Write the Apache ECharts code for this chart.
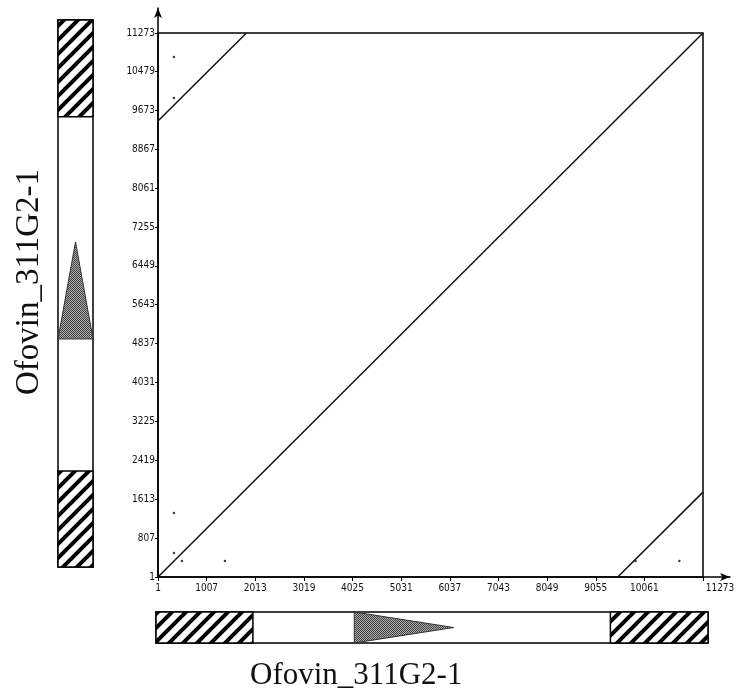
<!DOCTYPE html>
<html>
<head>
<meta charset="utf-8">
<script src="https://cdn.jsdelivr.net/npm/echarts@6/dist/echarts.min.js"></script>
<style>
  html, body { margin: 0; padding: 0; background: #fff; }
</style>
</head>
<body>
<div id="main" style="width: 741px; height: 700px"></div>
<script>
// sequence and axis ticks
const seqName = 'Ofovin_311G2-1'
const seqLength = 11273
const xTicks = [1, 1007, 2013, 3019, 4025, 5031, 6037, 7043, 8049, 9055, 10061, 11273]
const yTicks = [1, 807, 1613, 2419, 3225, 4031, 4837, 5643, 6449, 7255, 8061, 8867, 9673, 10479, 11273]

// dot plot matches
const mainDiagonal = [[1, 1], [11273, 11273]]
const upperRepeat = [[1, 9450], [1830, 11273]]
const lowerRepeat = [[9510, 1], [11273, 1760]]
const strayDots = [[331, 10775], [331, 9925], [331, 1326], [331, 497], [496, 332], [1386, 332], [9875, 332], [10785, 332]]

// gene map features
const ltrRegions = [[1, 1980], [9280, 11273]]
const geneX = [4050, 6080]
const geneY = [4700, 6700]

function hatchPattern() {
  const c = document.createElement('canvas')
  c.width = 14
  c.height = 14
  const ctx = c.getContext('2d')
  ctx.fillStyle = '#fff'
  ctx.fillRect(0, 0, 14, 14)
  ctx.strokeStyle = '#000'
  ctx.lineWidth = 4
  ctx.beginPath()
  ctx.moveTo(-7, 7); ctx.lineTo(7, -7)
  ctx.moveTo(0, 14); ctx.lineTo(14, 0)
  ctx.moveTo(7, 21); ctx.lineTo(21, 7)
  ctx.stroke()
  return { image: c, repeat: 'repeat' }
}

function stipplePattern() {
  const c = document.createElement('canvas')
  c.width = 2
  c.height = 2
  const ctx = c.getContext('2d')
  ctx.fillStyle = '#aaa'
  ctx.fillRect(0, 0, 2, 2)
  ctx.fillStyle = '#444'
  ctx.fillRect(0, 0, 1, 1)
  ctx.fillRect(1, 1, 1, 1)
  return { image: c, repeat: 'repeat' }
}

const hatch = hatchPattern()
const stipple = stipplePattern()

// x gene bar: value along x, 0..1 across
function renderXBar(params, api) {
  const kind = api.value(2)
  const a = api.coord([api.value(0), 0])
  const b = api.coord([api.value(1), 1])
  if (kind === 2) {
    return {
      type: 'polygon',
      shape: { points: [[a[0], a[1]], [a[0], b[1]], [b[0], (a[1] + b[1]) / 2]] },
      style: { fill: stipple, stroke: '#333', lineWidth: 1 }
    }
  }
  return {
    type: 'rect',
    shape: { x: a[0], y: b[1], width: b[0] - a[0], height: a[1] - b[1] },
    style: { fill: kind === 1 ? hatch : '#fff', stroke: '#000', lineWidth: 1.5 }
  }
}

// y gene bar: value along y, 0..1 across
function renderYBar(params, api) {
  const kind = api.value(2)
  const a = api.coord([0, api.value(0)])
  const b = api.coord([1, api.value(1)])
  if (kind === 2) {
    return {
      type: 'polygon',
      shape: { points: [[a[0], a[1]], [b[0], a[1]], [(a[0] + b[0]) / 2, b[1]]] },
      style: { fill: stipple, stroke: '#333', lineWidth: 1 }
    }
  }
  return {
    type: 'rect',
    shape: { x: a[0], y: b[1], width: b[0] - a[0], height: a[1] - b[1] },
    style: { fill: kind === 1 ? hatch : '#fff', stroke: '#000', lineWidth: 1.5 }
  }
}

const xBarData = [[1, seqLength, 0]]
  .concat(ltrRegions.map((r) => [r[0], r[1], 1]))
  .concat([[geneX[0], geneX[1], 2]])
const yBarData = [[1, seqLength, 0]]
  .concat(ltrRegions.map((r) => [r[0], r[1], 1]))
  .concat([[geneY[0], geneY[1], 2]])

const tickFont = {
  fontSize: 10,
  color: '#111',
  fontFamily: 'DejaVu Sans Condensed, Liberation Sans, sans-serif'
}

const hiddenAxis = {
  show: false,
  splitLine: { show: false }
}

const option = {
  backgroundColor: '#fff',
  animation: false,
  grid: [
    { left: 158, top: 33, width: 545, height: 544, show: true, borderColor: '#000', borderWidth: 1.5 },
    { left: 158, top: 8, width: 572, height: 569 },
    { left: 156, top: 612, width: 552, height: 31 },
    { left: 58, top: 20, width: 35, height: 547 }
  ],
  xAxis: [
    {
      gridIndex: 0,
      type: 'value',
      min: 1,
      max: seqLength,
      splitLine: { show: false },
      axisLine: { show: false },
      axisTick: { show: true, length: 4, customValues: xTicks, lineStyle: { color: '#000' } },
      axisLabel: {
        ...tickFont,
        margin: 6,
        customValues: xTicks,
        formatter: (v) => (v === seqLength ? '{last|' + v + '}' : String(v)),
        rich: { last: { ...tickFont, padding: [0, 0, 0, 34] } }
      }
    },
    {
      gridIndex: 1,
      type: 'value',
      min: 0,
      max: 1,
      splitLine: { show: false },
      axisTick: { show: false },
      axisLabel: { show: false },
      axisLine: { show: true, symbol: ['none', 'arrow'], symbolSize: [6, 10], lineStyle: { color: '#000', width: 1.5 } }
    },
    { gridIndex: 2, type: 'value', min: 1, max: seqLength, ...hiddenAxis },
    { gridIndex: 3, type: 'value', min: 0, max: 1, ...hiddenAxis }
  ],
  yAxis: [
    {
      gridIndex: 0,
      type: 'value',
      min: 1,
      max: seqLength,
      splitLine: { show: false },
      axisLine: { show: false },
      axisTick: { show: true, length: 3, customValues: yTicks, lineStyle: { color: '#000' } },
      axisLabel: { ...tickFont, margin: 3, customValues: yTicks, formatter: (v) => String(v) }
    },
    {
      gridIndex: 1,
      type: 'value',
      min: 0,
      max: 1,
      splitLine: { show: false },
      axisTick: { show: false },
      axisLabel: { show: false },
      axisLine: { show: true, symbol: ['none', 'arrow'], symbolSize: [6, 10], lineStyle: { color: '#000', width: 1.5 } }
    },
    { gridIndex: 2, type: 'value', min: 0, max: 1, ...hiddenAxis },
    { gridIndex: 3, type: 'value', min: 1, max: seqLength, ...hiddenAxis }
  ],
  graphic: [
    {
      type: 'text',
      left: 250,
      top: 660,
      style: { text: seqName, font: '31px "Liberation Serif", serif', fill: '#111' }
    },
    {
      type: 'text',
      x: 13,
      y: 395,
      rotation: Math.PI / 2,
      style: { text: seqName, font: '33px "Liberation Serif", serif', fill: '#111' }
    }
  ],
  series: [
    {
      type: 'line',
      xAxisIndex: 0,
      yAxisIndex: 0,
      data: mainDiagonal,
      symbol: 'none',
      lineStyle: { color: '#111', width: 1.5 }
    },
    {
      type: 'line',
      xAxisIndex: 0,
      yAxisIndex: 0,
      data: upperRepeat,
      symbol: 'none',
      lineStyle: { color: '#111', width: 1.5 }
    },
    {
      type: 'line',
      xAxisIndex: 0,
      yAxisIndex: 0,
      data: lowerRepeat,
      symbol: 'none',
      lineStyle: { color: '#111', width: 1.5 }
    },
    {
      type: 'scatter',
      xAxisIndex: 0,
      yAxisIndex: 0,
      data: strayDots,
      symbolSize: 2.5,
      itemStyle: { color: '#111' }
    },
    {
      type: 'custom',
      xAxisIndex: 2,
      yAxisIndex: 2,
      data: xBarData,
      renderItem: renderXBar
    },
    {
      type: 'custom',
      xAxisIndex: 3,
      yAxisIndex: 3,
      data: yBarData,
      renderItem: renderYBar
    }
  ]
}

const chart = echarts.init(document.getElementById('main'))
chart.setOption(option)
</script>
</body>
</html>
